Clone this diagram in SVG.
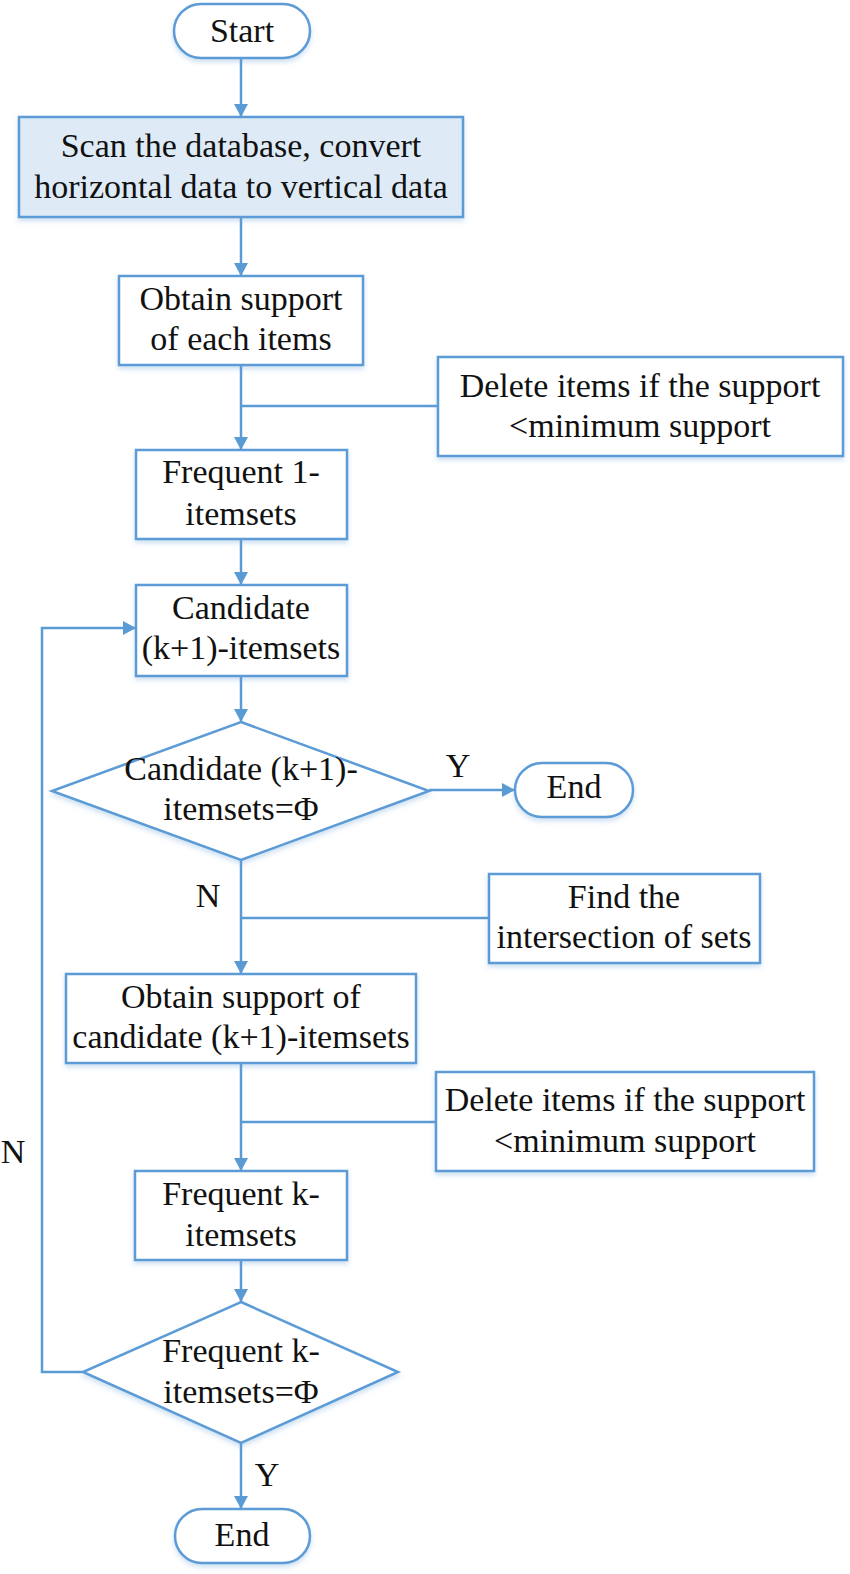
<svg xmlns="http://www.w3.org/2000/svg" width="850" height="1574" viewBox="0 0 850 1574">
<style>
.s{fill:#fff;stroke:#5B9BD5;stroke-width:2.5;filter:url(#sh)}
.hl{fill:#DEEBF7}
.t{font-family:"Liberation Serif","Times New Roman",serif;font-size:34px;fill:#111;text-anchor:middle}
.c{fill:none;stroke:#5B9BD5;stroke-width:2.5}
.a{marker-end:url(#ar)}
</style>
<defs>
<marker id="ar" markerUnits="userSpaceOnUse" viewBox="0 0 13 14" refX="13" refY="7" markerWidth="13" markerHeight="14" orient="auto">
<path d="M0,0 L13,7 L0,14 z" fill="#5B9BD5"/>
</marker>
<filter id="sh" x="-10%" y="-10%" width="120%" height="130%">
<feDropShadow dx="0" dy="3" stdDeviation="2.5" flood-color="#5B9BD5" flood-opacity="0.3"/>
</filter>
</defs>
<rect width="850" height="1574" fill="#fff"/>
<g id="connectors">
<line class="c a" x1="241" y1="58" x2="241" y2="117"/>
<line class="c a" x1="241" y1="217" x2="241" y2="276"/>
<line class="c a" x1="241" y1="365" x2="241" y2="450"/>
<line class="c" x1="438" y1="406" x2="241" y2="406"/>
<line class="c a" x1="241" y1="539" x2="241" y2="585"/>
<line class="c a" x1="241" y1="676" x2="241" y2="722"/>
<line class="c a" x1="429" y1="790" x2="515" y2="790"/>
<line class="c a" x1="241" y1="860" x2="241" y2="974"/>
<line class="c" x1="489" y1="918" x2="241" y2="918"/>
<line class="c a" x1="241" y1="1063" x2="241" y2="1171"/>
<line class="c" x1="436" y1="1122" x2="241" y2="1122"/>
<line class="c a" x1="241" y1="1260" x2="241" y2="1302"/>
<line class="c a" x1="241" y1="1443" x2="241" y2="1509"/>
<polyline class="c a" points="83,1372 42,1372 42,628 136,628"/>
<text class="t" x="458" y="777">Y</text>
<text class="t" x="208" y="907">N</text>
<text class="t" x="267" y="1486">Y</text>
<text class="t" x="13" y="1163">N</text>
</g>
<g id="start">
<rect class="s" x="174" y="4" width="136" height="54" rx="27"/>
<text class="t" x="242" y="42">Start</text>
</g>
<g id="scan">
<rect class="s hl" x="19" y="117" width="444" height="100"/>
<text class="t" x="241" y="157">Scan the database, convert</text>
<text class="t" x="241" y="198">horizontal data to vertical data</text>
</g>
<g id="obtain1">
<rect class="s" x="119" y="276" width="244" height="89"/>
<text class="t" x="241" y="310">Obtain support</text>
<text class="t" x="241" y="350">of each items</text>
</g>
<g id="delete1">
<rect class="s" x="438" y="357" width="405" height="99"/>
<text class="t" x="640" y="397">Delete items if the support</text>
<text class="t" x="640" y="437">&lt;minimum support</text>
</g>
<g id="frequent1">
<rect class="s" x="136" y="450" width="211" height="89"/>
<text class="t" x="241" y="483">Frequent 1-</text>
<text class="t" x="241" y="525">itemsets</text>
</g>
<g id="candidate">
<rect class="s" x="136" y="585" width="211" height="91"/>
<text class="t" x="241" y="619">Candidate</text>
<text class="t" x="241" y="659">(k+1)-itemsets</text>
</g>
<g id="decision1">
<polygon class="s" points="241,722 429,791 241,860 52,791"/>
<text class="t" x="241" y="780">Candidate (k+1)-</text>
<text class="t" x="241" y="820">itemsets=Φ</text>
</g>
<g id="end1">
<rect class="s" x="515" y="763" width="118" height="54" rx="27"/>
<text class="t" x="574" y="798">End</text>
</g>
<g id="find">
<rect class="s" x="489" y="874" width="271" height="89"/>
<text class="t" x="624" y="908">Find the</text>
<text class="t" x="624" y="948">intersection of sets</text>
</g>
<g id="obtain2">
<rect class="s" x="66" y="974" width="350" height="89"/>
<text class="t" x="241" y="1008">Obtain support of</text>
<text class="t" x="241" y="1048">candidate (k+1)-itemsets</text>
</g>
<g id="delete2">
<rect class="s" x="436" y="1072" width="378" height="99"/>
<text class="t" x="625" y="1111">Delete items if the support</text>
<text class="t" x="625" y="1152">&lt;minimum support</text>
</g>
<g id="frequentk">
<rect class="s" x="135" y="1171" width="212" height="89"/>
<text class="t" x="241" y="1205">Frequent k-</text>
<text class="t" x="241" y="1246">itemsets</text>
</g>
<g id="decision2">
<polygon class="s" points="241,1302 398,1372 241,1443 83,1372"/>
<text class="t" x="241" y="1362">Frequent k-</text>
<text class="t" x="241" y="1403">itemsets=Φ</text>
</g>
<g id="end2">
<rect class="s" x="175" y="1509" width="135" height="54" rx="27"/>
<text class="t" x="242" y="1546">End</text>
</g>
</svg>
